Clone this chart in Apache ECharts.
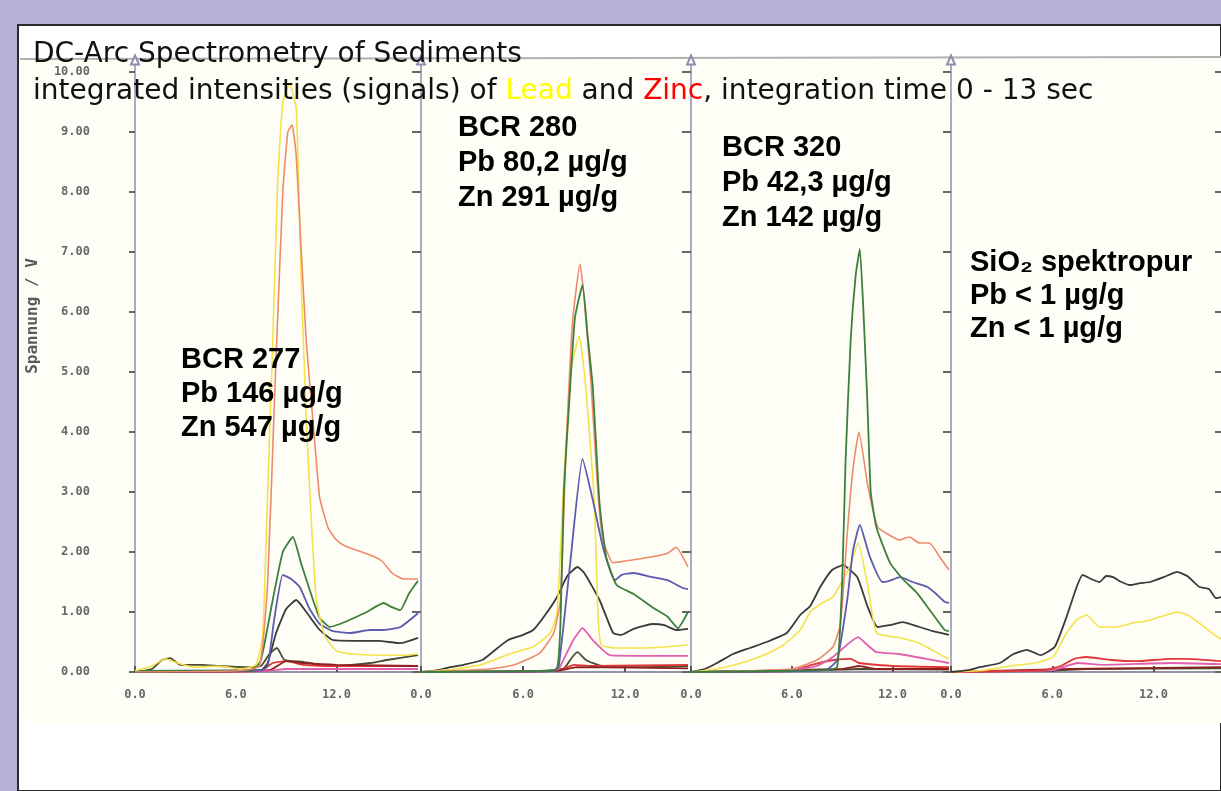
<!DOCTYPE html>
<html>
<head>
<meta charset="utf-8">
<title>DC-Arc Spectrometry of Sediments</title>
<script src="https://cdn.jsdelivr.net/npm/echarts@6/dist/echarts.min.js"></script>
<style>
  html, body { margin: 0; padding: 0; background: #b5b1d6; }
  #main { width: 1221px; height: 791px; }
</style>
</head>
<body>
<div id="main"></div>
<script>
// x ticks and y ticks of the scanned plots (time in s, voltage in V)
const timeTicks = [0, 6, 12];
const voltTicks = [0, 1, 2, 3, 4, 5, 6, 7, 8, 9, 10];

// panel labels
const samples = [
  { name: "BCR 277", pb: "146 µg/g", zn: "547 µg/g" },
  { name: "BCR 280", pb: "80,2 µg/g", zn: "291 µg/g" },
  { name: "BCR 320", pb: "42,3 µg/g", zn: "142 µg/g" },
  { name: "SiO₂ spektropur", pb: "< 1 µg/g", zn: "< 1 µg/g" },
];

// ---- BCR 277 : [time, volt]
const bcr277Yellow = [[0,0.02],[1,0.1],[1.8,0.22],[2.5,0.15],[3.5,0.08],[5,0.1],[6.3,0.05],[7.2,0.12],[7.6,0.6],[7.9,3.0],[8.2,5.5],[8.5,8.2],[8.8,9.5],[9.2,9.8],[9.6,9.4],[9.9,6.5],[10.2,4.2],[10.5,2.5],[10.8,1.2],[11.3,0.6],[12,0.35],[13,0.3],[14.5,0.28],[16,0.28],[16.85,0.3]];
const bcr277Salmon = [[0,0],[6,0.02],[7.4,0.1],[7.9,1.5],[8.3,4.5],[8.8,8.0],[9.1,9.0],[9.35,9.12],[9.6,8.6],[9.9,7.0],[10.2,5.5],[10.5,4.5],[10.8,3.5],[11.0,2.9],[11.5,2.4],[12,2.2],[12.5,2.1],[13,2.05],[14,1.95],[14.7,1.85],[15.3,1.65],[16,1.55],[16.85,1.55]];
const bcr277Green = [[0,0.02],[7,0.03],[7.5,0.2],[8.2,1.2],[8.8,2.0],[9.4,2.25],[9.9,1.8],[10.6,1.2],[11.0,0.9],[11.6,0.75],[12.2,0.8],[12.8,0.87],[13.8,1.0],[14.8,1.15],[15.3,1.08],[15.8,1.03],[16.3,1.3],[16.85,1.52]];
const bcr277Blue = [[0,0.02],[7.5,0.03],[7.9,0.1],[8.3,0.9],[8.8,1.62],[9.3,1.55],[9.8,1.42],[10.4,1.05],[11.0,0.8],[11.8,0.68],[12.8,0.65],[14,0.7],[14.8,0.7],[15.8,0.75],[16.85,0.98]];
const bcr277Black = [[0,0],[7.5,0.03],[7.9,0.15],[8.4,0.65],[9.0,1.05],[9.6,1.2],[10.2,1.0],[11.0,0.7],[11.8,0.53],[13,0.52],[14.5,0.52],[15.8,0.48],[16.85,0.57]];
const bcr277Olive = [[0,0],[1,0.05],[1.6,0.2],[2.1,0.23],[2.7,0.12],[4,0.12],[5,0.1],[6.5,0.08],[7.5,0.1],[8.0,0.3],[8.45,0.4],[8.9,0.2],[10,0.17],[11,0.12],[12,0.1],[14,0.15],[15,0.2],[16.85,0.28]];
const bcr277Red = [[0,0],[7.5,0.02],[8.2,0.15],[9,0.18],[10,0.12],[12,0.1],[16.85,0.1]];
const bcr277DarkRed = [[0,0],[8,0.03],[9,0.18],[10,0.15],[12,0.12],[16.85,0.1]];
const bcr277Pink = [[0,0],[8,0.02],[9,0.05],[16.85,0.05]];

// ---- BCR 280
const bcr280Black = [[0,0],[1,0.03],[1.7,0.08],[2.5,0.12],[3.6,0.2],[4.5,0.4],[5.1,0.53],[6,0.62],[6.6,0.7],[7.3,0.95],[8.0,1.25],[8.6,1.6],[9.2,1.75],[9.6,1.65],[10.5,1.2],[11.3,0.65],[11.8,0.62],[12.5,0.72],[13.6,0.8],[14.3,0.78],[15.0,0.7],[15.7,0.72]];
const bcr280Green = [[0,0],[7.5,0.02],[8.0,0.05],[8.2,0.8],[8.4,3.0],[8.65,4.2],[9.05,5.9],[9.5,6.45],[9.8,5.6],[10.1,4.75],[10.5,2.8],[10.9,1.9],[11.5,1.45],[12.5,1.3],[13.6,1.08],[14.5,0.92],[15.1,0.73],[15.7,1.0]];
const bcr280Salmon = [[0,0],[4,0.05],[5.5,0.12],[7.0,0.32],[7.8,0.65],[8.2,1.2],[8.5,3.5],[8.9,5.8],[9.35,6.8],[9.6,6.2],[10.0,4.8],[10.4,3.0],[10.7,2.2],[11.3,1.82],[12.5,1.87],[13.6,1.92],[14.5,1.98],[15.0,2.08],[15.7,1.75]];
const bcr280Yellow = [[0,0],[2,0.05],[3.5,0.12],[5.2,0.3],[6.6,0.42],[7.6,0.65],[8.0,1.0],[8.4,3.2],[8.8,5.0],[9.3,5.6],[9.6,5.0],[9.9,4.0],[10.2,2.8],[10.4,1.0],[10.6,0.45],[11.5,0.4],[13,0.4],[14.5,0.42],[15.7,0.45]];
const bcr280Blue = [[0,0],[7.8,0.02],[8.1,0.1],[8.75,1.75],[9.5,3.55],[10.1,2.87],[10.7,2.08],[11.4,1.53],[11.8,1.62],[12.5,1.65],[13.6,1.58],[14.5,1.53],[15.4,1.4],[15.7,1.38]];
const bcr280Pink = [[0,0],[7.8,0.02],[8.1,0.05],[8.95,0.53],[9.5,0.73],[10.1,0.53],[11.1,0.28],[12.5,0.27],[15.7,0.27]];
const bcr280Olive = [[0,0],[7,0.02],[8.4,0.06],[8.9,0.25],[9.2,0.33],[9.7,0.2],[10.4,0.12],[11,0.08],[13,0.08],[15.7,0.1]];
const bcr280Red = [[0,0],[8,0.02],[9,0.12],[10,0.1],[15.7,0.12]];
const bcr280DarkRed = [[0,0],[8,0.02],[9.2,0.08],[15.7,0.06]];

// ---- BCR 320
const bcr320Black = [[0,0],[0.8,0.05],[1.55,0.15],[2.5,0.3],[3.5,0.4],[4.5,0.5],[5.7,0.65],[6.5,0.95],[7.1,1.1],[7.7,1.42],[8.4,1.7],[9.05,1.78],[9.9,1.58],[10.5,1.1],[11.1,0.75],[11.8,0.78],[12.6,0.83],[13.6,0.75],[14.4,0.68],[15.36,0.62]];
const bcr320Green = [[0,0],[8,0.03],[8.7,0.08],[9.0,1.5],[9.2,3.5],[9.5,5.5],[9.8,6.6],[10.05,7.05],[10.3,5.8],[10.5,4.5],[10.7,3.0],[11.05,2.4],[11.85,1.82],[12.6,1.55],[13.45,1.32],[14.3,1.0],[15.1,0.7],[15.36,0.68]];
const bcr320Salmon = [[0,0],[6,0.05],[7.5,0.2],[8.45,0.42],[8.9,0.8],[9.3,2.3],[9.65,3.4],[10.0,4.0],[10.5,3.15],[11.1,2.42],[11.7,2.3],[12.4,2.2],[13.0,2.25],[13.6,2.15],[14.2,2.15],[14.8,1.92],[15.36,1.7]];
const bcr320Blue = [[0,0],[8,0.03],[8.7,0.2],[9.3,1.2],[9.65,2.03],[10.05,2.45],[10.65,1.92],[11.4,1.5],[11.8,1.52],[12.45,1.58],[13.2,1.5],[14.05,1.42],[14.6,1.3],[15.1,1.17],[15.36,1.15]];
const bcr320Yellow = [[0,0],[1.5,0.05],[3,0.15],[4.5,0.3],[5.5,0.45],[6.5,0.7],[7.1,1.0],[7.8,1.15],[8.45,1.25],[9.45,1.75],[9.95,2.15],[10.5,1.48],[11.05,0.65],[12.45,0.57],[13.6,0.48],[15.1,0.25],[15.36,0.22]];
const bcr320Pink = [[0,0],[6,0.03],[7.5,0.1],[8.45,0.25],[9.95,0.58],[10.5,0.45],[11.05,0.33],[12.4,0.3],[14,0.22],[15.36,0.15]];
const bcr320Red = [[0,0],[6,0.02],[7.2,0.12],[8.5,0.2],[9.5,0.22],[10,0.15],[12,0.1],[15.36,0.08]];
const bcr320DarkRed = [[0,0],[9,0.05],[10,0.1],[11,0.05],[15.36,0.05]];
const bcr320Olive = [[0,0],[8,0.03],[10,0.05],[15.36,0.04]];

// ---- SiO2 blank
const sio2Black = [[0,0],[1,0.03],[1.7,0.08],[2.9,0.15],[3.7,0.3],[4.5,0.37],[5.3,0.28],[6.15,0.42],[6.85,0.92],[7.45,1.42],[7.8,1.62],[8.3,1.55],[8.8,1.5],[9.2,1.6],[9.6,1.58],[10.1,1.5],[10.6,1.45],[11.2,1.48],[11.8,1.5],[12.6,1.58],[13.4,1.67],[14.0,1.6],[14.7,1.42],[15.3,1.38],[15.7,1.23],[16,1.25]];
const sio2Yellow = [[0,0],[2,0.03],[3.5,0.1],[5,0.15],[6.05,0.25],[6.85,0.65],[7.45,0.87],[8.05,0.95],[8.8,0.75],[9.8,0.75],[10.8,0.82],[11.6,0.85],[12.4,0.92],[13.4,1.0],[14.0,0.95],[14.7,0.82],[15.7,0.6],[16,0.55]];
const sio2Red = [[0,0],[5.5,0.03],[6.5,0.1],[7.3,0.22],[8,0.25],[9.5,0.2],[11,0.18],[13,0.22],[14,0.22],[16,0.18]];
const sio2Pink = [[0,0],[6,0.03],[7.5,0.15],[9,0.12],[13,0.15],[16,0.13]];
const sio2Olive = [[0,0],[6,0.02],[8,0.05],[16,0.06]];
const sio2DarkRed = [[0,0],[7,0.05],[16,0.08]];

const colors = {
  yellow: "#f3e34a",
  salmon: "#ee8a6c",
  green: "#3d7f3d",
  blue: "#5b5bb0",
  black: "#3a3a3a",
  olive: "#4b4b32",
  pink: "#e060b0",
  red: "#e03838",
  darkred: "#8a2020",
};

const panels = [
  { left: 135, width: 283, xMax: 16.85, lines: { olive: bcr277Olive, red: bcr277Red, darkred: bcr277DarkRed, pink: bcr277Pink, black: bcr277Black, blue: bcr277Blue, green: bcr277Green, yellow: bcr277Yellow, salmon: bcr277Salmon } },
  { left: 421, width: 267, xMax: 15.7, lines: { olive: bcr280Olive, red: bcr280Red, darkred: bcr280DarkRed, pink: bcr280Pink, black: bcr280Black, yellow: bcr280Yellow, salmon: bcr280Salmon, blue: bcr280Blue, green: bcr280Green } },
  { left: 691, width: 258, xMax: 15.36, lines: { olive: bcr320Olive, red: bcr320Red, darkred: bcr320DarkRed, pink: bcr320Pink, black: bcr320Black, yellow: bcr320Yellow, salmon: bcr320Salmon, blue: bcr320Blue, green: bcr320Green } },
  { left: 951, width: 270, xMax: 16, lines: { olive: sio2Olive, darkred: sio2DarkRed, pink: sio2Pink, red: sio2Red, yellow: sio2Yellow, black: sio2Black } },
];

const axisFont = "DejaVu Sans Mono";
const chart = echarts.init(document.getElementById("main"));

const grid = [], xAxis = [], yAxis = [], series = [];
panels.forEach((p, i) => {
  grid.push({ left: p.left, width: p.width, top: 60, bottom: 119 });
  xAxis.push({
    type: "value", gridIndex: i, min: 0, max: p.xMax,
    axisLine: { lineStyle: { color: "#6f6f90", width: 1.5 } },
    axisTick: { inside: true, length: 6, lineStyle: { color: "#555", width: 2 }, customValues: timeTicks },
    axisLabel: { customValues: timeTicks, formatter: (v) => v.toFixed(1), color: "#666", fontFamily: axisFont, fontWeight: "bold", fontSize: 12, margin: 17 },
    splitLine: { show: false },
  });
  yAxis.push({
    type: "value", gridIndex: i, min: 0, max: 10.2,
    axisLine: { show: true, symbol: ["none", "emptyTriangle"], symbolSize: [8, 9], lineStyle: { color: "#8e8eb0", width: 1.5 } },
    axisTick: { show: true, length: 6, lineStyle: { color: "#666", width: 2 }, customValues: voltTicks },
    axisLabel: { show: i === 0, customValues: voltTicks, formatter: (v) => v.toFixed(2), color: "#666", fontFamily: axisFont, fontWeight: "bold", fontSize: 12, margin: 45 },
    splitLine: { show: false },
  });
  Object.keys(p.lines).forEach((key) => {
    series.push({
      type: "line", name: samples[i].name + " " + key,
      xAxisIndex: i, yAxisIndex: i,
      data: p.lines[key],
      symbol: "none", smooth: 0.15,
      lineStyle: { color: colors[key], width: key === "yellow" || key === "salmon" ? 1.6 : 1.8 },
      silent: true, animation: false,
    });
  });
});
// second set of y axes: the inner half of the crossing tick marks
panels.forEach((p, i) => {
  yAxis.push({
    type: "value", gridIndex: i, min: 0, max: 10.2,
    axisLine: { show: false },
    axisTick: { show: true, inside: true, length: 6, lineStyle: { color: "#666", width: 2 }, customValues: voltTicks },
    axisLabel: { show: false },
    splitLine: { show: false },
  });
});

// text blocks of the slide
const notePos = [[181, 343, 34], [458, 110, 35], [722, 130, 35], [970, 246, 33]];
const notes = samples.map((s, i) => ({
  text: s.name + "\nPb " + s.pb + "\nZn " + s.zn,
  left: notePos[i][0], top: notePos[i][1], padding: 0,
  textStyle: { fontFamily: "Liberation Sans, Arial", fontWeight: "bold", fontSize: 29, color: "#000", lineHeight: notePos[i][2] },
}));

const titleFont = { fontFamily: "DejaVu Sans", fontWeight: "normal", fontSize: 28, lineHeight: 37 };
const mainTitle = {
  left: 33, top: 36, padding: 0,
  text: "{t|DC-Arc Spectrometry of Sediments}\n{t|integrated intensities (signals) of }{y|Lead}{t| and }{r|Zinc}{t|, integration time 0 - 13 sec}",
  textStyle: {
    fontWeight: "normal",
    rich: {
      t: Object.assign({ color: "#111" }, titleFont),
      y: Object.assign({ color: "#ffff00" }, titleFont),
      r: Object.assign({ color: "#ff0000" }, titleFont),
    },
  },
};

chart.setOption({
  backgroundColor: "#b5b1d6",
  animation: false,
  graphic: [
    { type: "rect", z: -10, shape: { x: 18, y: 25, width: 1203, height: 766 }, style: { fill: "#ffffff", stroke: "#2a2a2a", lineWidth: 2 } },
    { type: "rect", z: -9, shape: { x: 20, y: 58, width: 1201, height: 665, r: [0, 0, 0, 18] }, style: { fill: "#fefef7" } },
    { type: "line", z: -8, shape: { x1: 20, y1: 59, x2: 1221, y2: 57 }, style: { stroke: "#b0b0b0", lineWidth: 2 } },
    { type: "text", z: 5, x: 33, y: 316, rotation: Math.PI / 2, style: { text: "Spannung / V", fontFamily: axisFont, fontWeight: "bold", fontSize: 16, fill: "#5a5a5a", align: "center", verticalAlign: "middle" } },
  ],
  title: [mainTitle].concat(notes),
  grid, xAxis, yAxis, series,
});
</script>
</body>
</html>
